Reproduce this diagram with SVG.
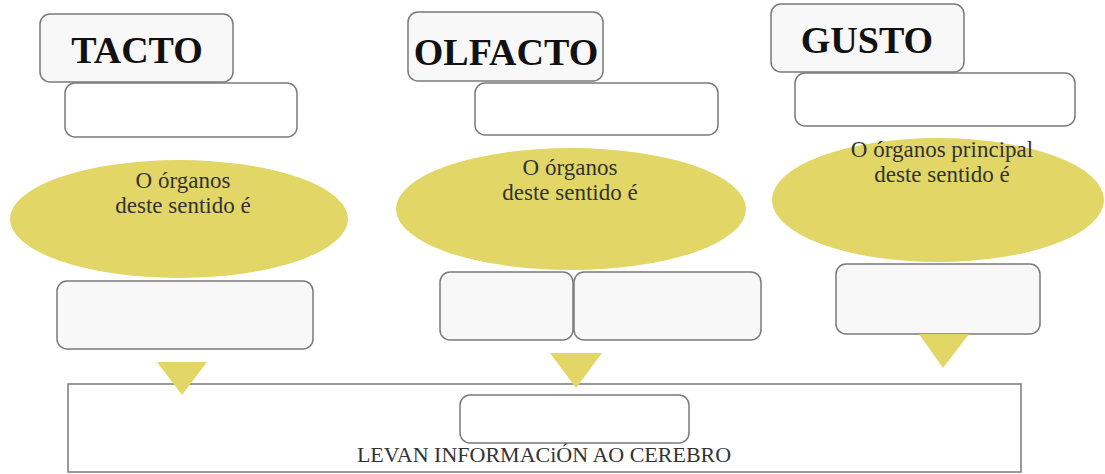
<svg xmlns="http://www.w3.org/2000/svg" width="1105" height="474" viewBox="0 0 1105 474">
<style>
.box{fill:#f8f8f8;stroke:#7a7a7a;stroke-width:1.5}
.wbox{fill:#ffffff;stroke:#7a7a7a;stroke-width:1.5}
.ell{fill:#e2d667}
.tri{fill:#e2d667}
.title{font-family:"Liberation Serif",serif;font-weight:bold;font-size:38px;fill:#111;text-anchor:middle}
.lbl{font-family:"Liberation Serif",serif;font-size:23px;fill:#333;text-anchor:middle}
.bot{font-family:"Liberation Serif",serif;font-size:22px;fill:#333;text-anchor:middle}
</style>
<rect width="1105" height="474" fill="#ffffff"/>
<g id="bottom">
<rect x="68" y="384" width="953" height="88" fill="#ffffff" stroke="#7a7a7a" stroke-width="1.5"/>
<rect class="wbox" x="460" y="395" width="229" height="48" rx="10"/>
<text class="bot" x="544" y="462">LEVAN INFORMACiÓN AO CEREBRO</text>
</g>
<g id="tacto">
<rect class="box" x="40" y="14" width="193" height="68" rx="10"/>
<text class="title" x="137" y="63">TACTO</text>
<rect class="wbox" x="65" y="83" width="232" height="54" rx="10"/>
<ellipse class="ell" cx="179" cy="219" rx="169" ry="59"/>
<text class="lbl" x="183" y="188">O órganos</text>
<text class="lbl" x="183" y="213">deste sentido é</text>
<rect class="box" x="57" y="281" width="256" height="68" rx="10"/>
</g>
<g id="olfacto">
<rect class="box" x="408" y="12" width="195" height="69" rx="10"/>
<text class="title" x="506" y="65">OLFACTO</text>
<rect class="wbox" x="475" y="83" width="243" height="52" rx="10"/>
<ellipse class="ell" cx="571" cy="209" rx="175" ry="61"/>
<text class="lbl" x="570" y="175">O órganos</text>
<text class="lbl" x="570" y="200">deste sentido é</text>
<rect class="box" x="440" y="272" width="133" height="68" rx="10"/>
<rect class="box" x="574" y="272" width="187" height="68" rx="10"/>
</g>
<g id="gusto">
<rect class="box" x="771" y="4" width="193" height="68" rx="10"/>
<text class="title" x="867" y="53">GUSTO</text>
<rect class="wbox" x="795" y="73" width="280" height="53" rx="10"/>
<ellipse class="ell" cx="938" cy="200" rx="166" ry="62"/>
<text class="lbl" x="942" y="157">O órganos principal</text>
<text class="lbl" x="942" y="182">deste sentido é</text>
<rect class="box" x="836" y="264" width="204" height="70" rx="10"/>
</g>
<g id="connectors">
<polygon class="tri" points="157,362 207,362 182,395"/>
<polygon class="tri" points="550,353 602,353 576,388"/>
<polygon class="tri" points="919,334 969,334 943,368"/>
</g>
</svg>
